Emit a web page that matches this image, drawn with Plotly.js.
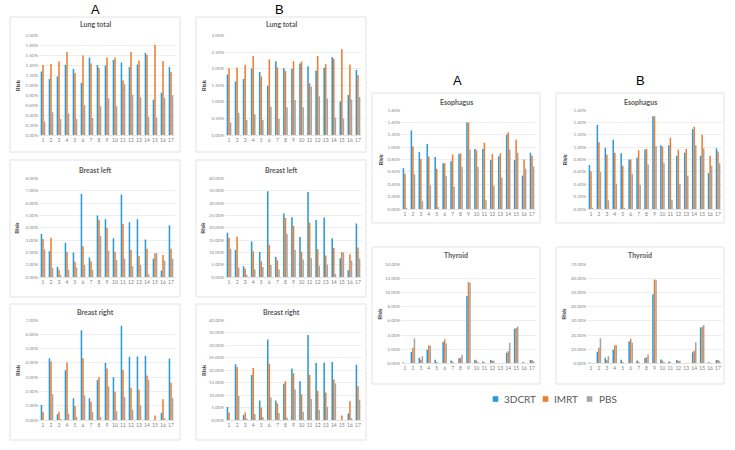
<!DOCTYPE html>
<html>
<head>
<meta charset="utf-8">
<script src="https://cdn.plot.ly/plotly-3.0.1.min.js"></script>
<style>html,body{margin:0;padding:0;background:#fff}#chart{width:735px;height:450px}</style>
</head>
<body>
<div id="chart"></div>
<script>
var categories = ["1","2","3","4","5","6","7","8","9","10","11","12","13","14","15","16","17"];
var seriesNames = ["3DCRT","IMRT","PBS"];
var seriesColors = ["#2b9ad6","#ed7d31","#a5a5a5"];

// Lung total (A)
var lungA_3dcrt = [1.28,1.13,1.18,1.41,1.33,1.05,1.56,1.41,1.40,1.51,1.46,1.37,1.42,1.65,0.71,0.85,1.37];
var lungA_imrt  = [1.41,1.43,1.48,1.67,1.25,1.60,1.44,1.35,1.56,1.56,1.10,1.67,1.50,1.61,1.82,1.49,1.27];
var lungA_pbs   = [0.27,0.46,0.32,0.44,0.32,0.60,0.34,0.58,0.74,0.58,1.02,0.81,0.76,0.37,0.35,0.75,0.80];
// Lung total (B)
var lungB_3dcrt = [1.83,1.62,1.69,2.01,1.90,1.49,2.23,2.02,2.00,2.16,2.08,1.95,2.03,2.36,1.01,1.21,1.96];
var lungB_imrt  = [2.02,2.04,2.12,2.39,1.77,2.28,2.05,1.93,2.23,2.22,1.56,2.39,2.14,2.30,2.59,2.13,1.81];
var lungB_pbs   = [0.38,0.67,0.45,0.63,0.45,0.85,0.48,0.84,1.06,0.84,1.46,1.17,1.10,0.53,0.50,1.07,1.15];
// Breast left (A)
var breastLA_3dcrt = [3.50,2.10,0.85,2.80,2.00,6.75,1.60,5.00,4.70,3.15,6.70,4.45,4.70,3.05,1.50,0.55,4.20];
var breastLA_imrt  = [3.10,3.20,0.60,2.05,1.25,2.50,1.30,4.65,4.00,2.05,4.30,2.20,1.70,2.30,1.95,1.80,2.30];
var breastLA_pbs   = [2.25,0.75,0.20,0.60,0.80,1.00,0.60,3.35,2.15,1.40,1.50,0.90,1.00,0.25,1.95,1.35,1.50];
// Breast left (B)
var breastLB_3dcrt = [18.0,11.0,4.5,14.5,10.2,34.8,8.2,25.8,24.3,16.3,34.5,23.2,24.2,15.8,7.7,2.8,21.7];
var breastLB_imrt  = [16.0,16.5,3.5,10.5,6.5,13.0,6.8,24.0,20.8,10.3,22.0,11.3,8.8,11.8,10.2,9.3,12.0];
var breastLB_pbs   = [11.5,4.0,1.0,3.2,4.2,5.0,3.2,17.5,11.0,7.2,7.8,4.7,5.2,1.3,10.0,6.8,7.6];
// Breast right (A)
var breastRA_3dcrt = [1.05,4.32,0.40,3.48,1.52,6.28,1.52,2.80,4.00,3.00,6.60,4.42,4.45,4.50,0.00,0.50,4.30];
var breastRA_imrt  = [0.58,4.10,0.58,4.02,0.98,4.32,1.28,3.00,3.60,1.98,3.50,2.25,2.12,3.12,0.32,1.45,2.60];
var breastRA_pbs   = [0.00,1.82,0.08,0.45,0.22,1.72,0.55,0.20,2.35,0.62,1.62,0.72,1.02,2.82,0.00,0.12,1.55];
// Breast right (B)
var breastRB_3dcrt = [5.2,22.3,2.0,18.0,7.8,32.2,7.8,14.5,20.6,15.5,34.0,22.8,23.0,23.2,0.0,2.6,22.1];
var breastRB_imrt  = [3.0,21.2,3.0,20.8,5.0,22.5,6.6,15.5,18.7,10.3,18.0,11.7,11.0,16.2,1.8,7.5,13.5];
var breastRB_pbs   = [0.0,9.6,0.5,2.4,1.2,9.0,2.8,1.0,12.2,3.3,8.4,4.0,5.3,14.6,0.0,0.7,8.1];
// Esophagus (A)
var esoA_3dcrt = [0.66,1.27,0.92,1.05,0.84,0.74,0.77,0.89,1.40,0.97,0.97,0.79,0.85,1.20,0.79,0.54,0.91];
var esoA_imrt  = [0.57,1.01,0.81,0.85,0.65,0.74,0.88,0.90,1.40,0.95,1.07,0.89,0.90,1.24,1.12,0.80,0.86];
var esoA_pbs   = [0.02,0.56,0.13,0.38,0.03,0.53,0.36,0.68,0.96,0.68,0.14,0.38,0.51,0.96,0.91,0.65,0.69];
// Esophagus (B)
var esoB_3dcrt = [0.71,1.36,0.99,1.12,0.90,0.80,0.83,0.96,1.50,1.03,1.03,0.86,0.91,1.29,0.86,0.58,0.98];
var esoB_imrt  = [0.61,1.08,0.88,0.91,0.70,0.80,0.95,0.97,1.50,1.01,1.15,0.96,0.97,1.33,1.20,0.86,0.93];
var esoB_pbs   = [0.02,0.60,0.14,0.41,0.02,0.57,0.39,0.72,1.02,0.74,0.15,0.41,0.54,1.03,0.98,0.70,0.74];
// Thyroid (A)
var thyA_3dcrt = [0.10,1.60,0.80,1.90,0.50,3.00,0.40,0.70,9.50,0.50,0.25,0.45,0,1.50,4.90,0.15,0.45];
var thyA_imrt  = [0.05,2.20,0.50,2.50,0.20,3.40,0.25,0.80,11.50,0.40,0.15,0.35,0,1.70,5.00,0.10,0.45];
var thyA_pbs   = [0.00,3.50,1.00,2.50,0.00,2.80,0.00,1.20,11.40,0.20,0.00,0.35,0,2.90,5.20,0.00,0.30];
// Thyroid (B)
var thyB_3dcrt = [0.5,8.2,4.0,9.6,2.5,15.5,2.0,3.8,48.8,2.7,1.3,2.3,0,7.8,25.3,0.8,2.4];
var thyB_imrt  = [0.3,11.0,2.4,12.7,1.0,17.3,1.2,4.2,59.2,2.0,0.8,1.8,0,8.8,25.7,0.5,2.4];
var thyB_pbs   = [0.0,17.8,5.0,12.7,0.0,14.5,0.0,6.2,58.8,1.0,0.0,1.8,0,14.8,27.0,0.0,1.7];

var W = 735, H = 450;
function px(x){return x/W;}
function py(y){return 1-y/H;}

var panels = [
  {name:"Lung total",   data:[lungA_3dcrt,lungA_imrt,lungA_pbs],         max:2.0, dt:0.2, px:[39,175],  py:[35.7,135],  box:[10,17,180,152],  ty:24,  rx:17},
  {name:"Lung total",   data:[lungB_3dcrt,lungB_imrt,lungB_pbs],         max:3.0, dt:0.5, px:[225,362], py:[35.7,135],  box:[196,17,366,152], ty:24,  rx:203},
  {name:"Breast left",  data:[breastLA_3dcrt,breastLA_imrt,breastLA_pbs],max:8,   dt:1,   px:[39,175],  py:[178.3,277.3],box:[10,160,180,297],ty:170, rx:17},
  {name:"Breast left",  data:[breastLB_3dcrt,breastLB_imrt,breastLB_pbs],max:40,  dt:5,   px:[225,362], py:[178.3,277.3],box:[196,160,366,297],ty:170, rx:203},
  {name:"Breast right", data:[breastRA_3dcrt,breastRA_imrt,breastRA_pbs],max:7,   dt:1,   px:[39,175],  py:[320,420],   box:[10,304,180,440], ty:312, rx:17},
  {name:"Breast right", data:[breastRB_3dcrt,breastRB_imrt,breastRB_pbs],max:40,  dt:5,   px:[225,362], py:[320,420],   box:[196,304,366,440],ty:312, rx:203},
  {name:"Esophagus",    data:[esoA_3dcrt,esoA_imrt,esoA_pbs],            max:1.6, dt:0.2, px:[401,536], py:[110,209],   box:[372,93,540,223], ty:102, rx:380},
  {name:"Esophagus",    data:[esoB_3dcrt,esoB_imrt,esoB_pbs],            max:1.6, dt:0.2, px:[587,722], py:[110,209],   box:[556,93,724,223], ty:102, rx:564},
  {name:"Thyroid",      data:[thyA_3dcrt,thyA_imrt,thyA_pbs],            max:14,  dt:2,   px:[401,536], py:[264.3,363.3],box:[372,247,540,384],ty:255, rx:380},
  {name:"Thyroid",      data:[thyB_3dcrt,thyB_imrt,thyB_pbs],            max:70,  dt:10,  px:[587,722], py:[264.3,363.3],box:[556,247,724,384],ty:255, rx:564}
];

var traces = [];
var layout = {
  width: W, height: H,
  margin:{l:0,r:0,t:0,b:0},
  paper_bgcolor:"#ffffff", plot_bgcolor:"rgba(0,0,0,0)",
  barmode:"group", bargap:0.42, bargroupgap:0,
  font:{family:"Lato, 'Open Sans', sans-serif", color:"#595959"},
  showlegend:false,
  shapes:[], annotations:[]
};

panels.forEach(function(p, i){
  var n = i+1;
  var xa = n===1 ? "x" : "x"+n, ya = n===1 ? "y" : "y"+n;
  for (var s=0; s<3; s++){
    traces.push({
      type:"bar", x:categories, y:p.data[s], name:seriesNames[s],
      marker:{color:seriesColors[s], line:{width:0}},
      xaxis:xa, yaxis:ya, legendgroup:seriesNames[s], showlegend:false
    });
  }
  var xkey = n===1 ? "xaxis" : "xaxis"+n, ykey = n===1 ? "yaxis" : "yaxis"+n;
  layout[xkey] = {
    domain:[px(p.px[0]), px(p.px[1])], anchor:ya,
    type:"category", showgrid:false, zeroline:false,
    showline:true, linecolor:"#d9d9d9", linewidth:0.7,
    ticks:"", tickfont:{size:5, color:"#7f7f7f"}, fixedrange:true
  };
  layout[ykey] = {
    domain:[py(p.py[1]), py(p.py[0])], anchor:xa,
    range:[0, p.max], dtick:p.dt, tick0:0,
    tickformat:".2f", ticksuffix:"%",
    showgrid:true, gridcolor:"#e3e3e3", gridwidth:0.6,
    zeroline:false, showline:false, ticks:"",
    tickfont:{size:4.5, color:"#8c8c8c"}, fixedrange:true
  };
  layout.shapes.push({type:"rect", xref:"paper", yref:"paper",
    x0:px(p.box[0]), x1:px(p.box[2]), y0:py(p.box[3]), y1:py(p.box[1]),
    line:{color:"#dcdcdc", width:0.8}, fillcolor:"rgba(0,0,0,0)", layer:"below"});
  layout.annotations.push({xref:"paper", yref:"paper",
    x:px((p.box[0]+p.box[2])/2), y:py(p.ty), xanchor:"center", yanchor:"middle",
    text:"<b>"+p.name+"</b>", showarrow:false, font:{size:7, color:"#595959"}});
  layout.annotations.push({xref:"paper", yref:"paper",
    x:px(p.rx), y:py((p.py[0]+p.py[1])/2), xanchor:"center", yanchor:"middle",
    text:"<b>Risk</b>", textangle:-90, showarrow:false, font:{size:6, color:"#404040"}});
});

// column letters
[["A",95,9],["B",279,9],["A",457,80],["B",640,80]].forEach(function(l){
  layout.annotations.push({xref:"paper", yref:"paper", x:px(l[1]), y:py(l[2]),
    xanchor:"center", yanchor:"middle", text:l[0], showarrow:false,
    font:{size:13, color:"#000000", family:"'Liberation Sans', Arial, sans-serif"}});
});

// legend (squares + labels), placed like the reference's compact legend
var legendPos = [[495.5,502],[545.5,552],[589.5,597]];
seriesNames.forEach(function(nm, s){
  var cx = legendPos[s][0], cy = 399;
  layout.shapes.push({type:"rect", xref:"paper", yref:"paper",
    x0:px(cx-2.8), x1:px(cx+2.8), y0:py(cy+2.8), y1:py(cy-2.8),
    line:{width:0}, fillcolor:seriesColors[s]});
  layout.annotations.push({xref:"paper", yref:"paper", x:px(legendPos[s][1]), y:py(cy),
    xanchor:"left", yanchor:"middle", text:nm, showarrow:false,
    font:{size:10, color:"#595959"}});
});

Plotly.newPlot("chart", traces, layout, {displayModeBar:false, staticPlot:true});
</script>
</body>
</html>
